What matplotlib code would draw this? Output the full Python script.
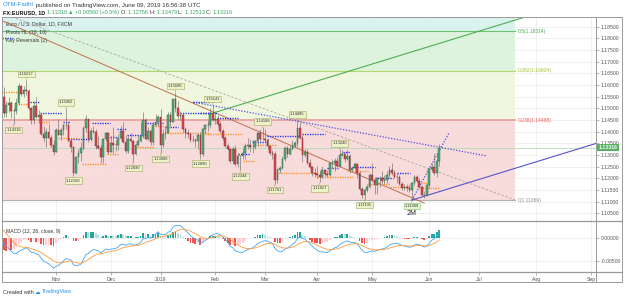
import numpy as np
import pandas as pd
import matplotlib.pyplot as plt
from matplotlib.lines import Line2D

plt.rcParams['font.family'] = ['Liberation Sans', 'DejaVu Sans']

W, H = 625, 298

# FX:EURUSD daily bars, 2018-10-01 .. 2019-06-07 (FXCM, no bars on Dec 25 / Jan 1)
opens = [
    1.1604, 1.1576, 1.1547, 1.1480, 1.1514, 1.1524, 1.1490, 1.1490, 1.1525, 1.1595, 1.1560, 1.1580,
    1.1575, 1.1500, 1.1452, 1.1512, 1.1465, 1.1470, 1.1390, 1.1375, 1.1400, 1.1375, 1.1345,
    1.1312, 1.1408, 1.1387, 1.1407, 1.1429, 1.1430, 1.1362, 1.1335, 1.1225, 1.1290, 1.1310,
    1.1330, 1.1415, 1.1455, 1.1370, 1.1405, 1.1400, 1.1340, 1.1330, 1.1290, 1.1370, 1.1395,
    1.1315, 1.1350, 1.1345, 1.1342, 1.1375, 1.1405, 1.1355, 1.1318, 1.1370, 1.1362, 1.1305,
    1.1345, 1.1360, 1.1380, 1.1450, 1.1370, 1.1405, 1.1355, 1.1430, 1.1440,
    1.1465, 1.1345, 1.1392, 1.1395, 1.1473, 1.1440, 1.1540, 1.1500, 1.1468, 1.1470, 1.1410,
    1.1395, 1.1390, 1.1365, 1.1365, 1.1360, 1.1385, 1.1305, 1.1410, 1.1430, 1.1430, 1.1480,
    1.1448, 1.1455, 1.1435, 1.1405, 1.1375, 1.1340, 1.1325, 1.1275, 1.1325, 1.1260, 1.1295,
    1.1295, 1.1310, 1.1340, 1.1342, 1.1335, 1.1335, 1.1360, 1.1395, 1.1370,
    1.1370, 1.1365, 1.1340, 1.1310, 1.1305, 1.1195, 1.1235, 1.1245, 1.1285, 1.1330, 1.1305,
    1.1325, 1.1340, 1.1352, 1.1415, 1.1375, 1.1300, 1.1315, 1.1265, 1.1250, 1.1225,
    1.1220, 1.1215, 1.1205, 1.1235, 1.1220, 1.1215, 1.1265, 1.1265, 1.1275, 1.1255, 1.1300,
    1.1305, 1.1285, 1.1295, 1.1235, 1.1245, 1.1260, 1.1225, 1.1155, 1.1130, 1.1150, 1.1165,
    1.1215, 1.1195, 1.1170, 1.1200, 1.1200, 1.1190, 1.1195, 1.1215, 1.1235, 1.1225, 1.1205,
    1.1205, 1.1175, 1.1157, 1.1165, 1.1160, 1.1150, 1.1180, 1.1205, 1.1190, 1.1165, 1.1130, 1.1130,
    1.1170, 1.1240, 1.1250, 1.1222, 1.12756,
]
highs = [
    1.1622, 1.1582, 1.1590, 1.1530, 1.1548, 1.1530, 1.1500, 1.1545, 1.1610, 1.1600, 1.1595, 1.1622,
    1.1581, 1.1505, 1.1530, 1.1550, 1.1495, 1.1478, 1.1425, 1.1415, 1.1432, 1.1385, 1.1365,
    1.1415, 1.1455, 1.1415, 1.1435, 1.1500, 1.1440, 1.1368, 1.1340, 1.1298, 1.1325, 1.1355,
    1.1425, 1.1472, 1.1455, 1.1415, 1.1425, 1.1410, 1.1380, 1.1345, 1.1375, 1.1400, 1.1400,
    1.1380, 1.1420, 1.1365, 1.1390, 1.1425, 1.1443, 1.1385, 1.1385, 1.1395, 1.1365, 1.1350,
    1.1385, 1.1440, 1.1486, 1.1460, 1.1420, 1.1410, 1.1440, 1.1475, 1.1470,
    1.1498, 1.1410, 1.1420, 1.1485, 1.1485, 1.1542, 1.1570, 1.1530, 1.1487, 1.1475, 1.1420,
    1.1410, 1.1400, 1.1385, 1.1375, 1.1395, 1.1400, 1.1415, 1.1435, 1.1445, 1.1500, 1.1514,
    1.1488, 1.1470, 1.1445, 1.1410, 1.1380, 1.1350, 1.1330, 1.1340, 1.1342, 1.1308, 1.1300,
    1.1325, 1.1350, 1.1372, 1.1370, 1.1365, 1.1365, 1.1405, 1.1410, 1.1419,
    1.1410, 1.1375, 1.1340, 1.1320, 1.1318, 1.1245, 1.1255, 1.1295, 1.1340, 1.1340, 1.1345,
    1.1365, 1.1360, 1.1448, 1.1440, 1.1385, 1.1325, 1.1325, 1.1285, 1.1255, 1.1245,
    1.1255, 1.1230, 1.1255, 1.1240, 1.1235, 1.1270, 1.1285, 1.1288, 1.1290, 1.1324, 1.1320,
    1.1315, 1.1323, 1.1305, 1.1250, 1.1270, 1.1265, 1.1230, 1.1165, 1.1155, 1.1175, 1.1225,
    1.1265, 1.1200, 1.1205, 1.1210, 1.1230, 1.1215, 1.1230, 1.1252, 1.1265, 1.1235, 1.1225,
    1.1215, 1.1185, 1.1175, 1.1175, 1.1175, 1.1185, 1.1215, 1.1215, 1.1200, 1.1170, 1.1145, 1.1175,
    1.1250, 1.1265, 1.1307, 1.1310, 1.13479,
]
lows = [
    1.1560, 1.1506, 1.1463, 1.1463, 1.1485, 1.1460, 1.1432, 1.1475, 1.1515, 1.1555, 1.1550, 1.1557,
    1.1495, 1.1434, 1.1433, 1.1460, 1.1440, 1.1385, 1.1355, 1.1336, 1.1375, 1.1335, 1.1302,
    1.1312, 1.1385, 1.1365, 1.1385, 1.1410, 1.1360, 1.1315, 1.1216, 1.1218, 1.1265, 1.1273,
    1.1320, 1.1400, 1.1357, 1.1360, 1.1395, 1.1325, 1.1325, 1.1265, 1.1268, 1.1360, 1.1305,
    1.1315, 1.1310, 1.1318, 1.1320, 1.1370, 1.1350, 1.1307, 1.1310, 1.1355, 1.1269, 1.1300,
    1.1340, 1.1355, 1.1375, 1.1365, 1.1365, 1.1345, 1.1345, 1.1425, 1.1425,
    1.1309, 1.1335, 1.1370, 1.1395, 1.1425, 1.1440, 1.1485, 1.1455, 1.1450, 1.1400, 1.1375,
    1.1375, 1.1355, 1.1355, 1.1335, 1.1325, 1.1289, 1.1295, 1.1395, 1.1405, 1.1415, 1.1445,
    1.1435, 1.1425, 1.1395, 1.1365, 1.1335, 1.1320, 1.1265, 1.1260, 1.1255, 1.1250, 1.1234,
    1.1285, 1.1285, 1.1325, 1.1315, 1.1310, 1.1325, 1.1340, 1.1360, 1.1365,
    1.1355, 1.1325, 1.1300, 1.1285, 1.1176, 1.1180, 1.1225, 1.1240, 1.1275, 1.1290, 1.1300,
    1.1320, 1.1335, 1.1335, 1.1370, 1.1270, 1.1290, 1.1260, 1.1245, 1.1212, 1.1205,
    1.1200, 1.1183, 1.1200, 1.1210, 1.1205, 1.1210, 1.1245, 1.1230, 1.1250, 1.1250, 1.1295,
    1.1270, 1.1280, 1.1225, 1.1230, 1.1240, 1.1200, 1.1150, 1.1118, 1.1110, 1.1140, 1.1160,
    1.1190, 1.1135, 1.1135, 1.1165, 1.1180, 1.1175, 1.1180, 1.1205, 1.1215, 1.1200, 1.1180,
    1.1170, 1.1150, 1.1150, 1.1145, 1.1140, 1.1107, 1.1172, 1.1185, 1.1160, 1.1125, 1.1115, 1.1125,
    1.1160, 1.1230, 1.1215, 1.1205, 1.12513,
]
closes = [
    1.1576, 1.1547, 1.1480, 1.1514, 1.1524, 1.1490, 1.1490, 1.1525, 1.1595, 1.1560, 1.1580, 1.1575,
    1.1500, 1.1452, 1.1512, 1.1465, 1.1470, 1.1390, 1.1375, 1.1400, 1.1375, 1.1345, 1.1312,
    1.1408, 1.1387, 1.1407, 1.1429, 1.1430, 1.1362, 1.1335, 1.1225, 1.1290, 1.1310, 1.1330,
    1.1415, 1.1455, 1.1370, 1.1405, 1.1400, 1.1340, 1.1330, 1.1290, 1.1370, 1.1395, 1.1315,
    1.1350, 1.1345, 1.1342, 1.1375, 1.1405, 1.1355, 1.1318, 1.1370, 1.1362, 1.1305, 1.1345,
    1.1360, 1.1380, 1.1450, 1.1370, 1.1405, 1.1355, 1.1430, 1.1440, 1.1465,
    1.1345, 1.1392, 1.1395, 1.1473, 1.1440, 1.1540, 1.1500, 1.1468, 1.1470, 1.1410, 1.1395,
    1.1390, 1.1365, 1.1365, 1.1360, 1.1385, 1.1305, 1.1410, 1.1430, 1.1430, 1.1480, 1.1448,
    1.1455, 1.1435, 1.1405, 1.1375, 1.1340, 1.1325, 1.1275, 1.1325, 1.1260, 1.1295, 1.1295,
    1.1310, 1.1340, 1.1342, 1.1335, 1.1335, 1.1360, 1.1395, 1.1370, 1.1370,
    1.1365, 1.1340, 1.1310, 1.1305, 1.1195, 1.1235, 1.1245, 1.1285, 1.1330, 1.1305, 1.1325,
    1.1340, 1.1352, 1.1415, 1.1375, 1.1300, 1.1315, 1.1265, 1.1250, 1.1225, 1.1220,
    1.1215, 1.1205, 1.1235, 1.1220, 1.1215, 1.1265, 1.1265, 1.1275, 1.1255, 1.1300, 1.1305,
    1.1285, 1.1295, 1.1235, 1.1245, 1.1260, 1.1225, 1.1155, 1.1130, 1.1150, 1.1165, 1.1215,
    1.1195, 1.1170, 1.1200, 1.1200, 1.1190, 1.1195, 1.1215, 1.1235, 1.1225, 1.1205, 1.1205,
    1.1175, 1.1157, 1.1165, 1.1160, 1.1150, 1.1180, 1.1205, 1.1190, 1.1165, 1.1130, 1.1130, 1.1170,
    1.1240, 1.1250, 1.1222, 1.12756, 1.13316,
]
# Aug-Sep 2018 closes, only used to warm up the MACD
warmup_closes = [
    1.1660, 1.1585, 1.1567, 1.1553, 1.1600, 1.1610, 1.1525, 1.1410, 1.1405, 1.1345, 1.1345,
    1.1375, 1.1440, 1.1480, 1.1570, 1.1595, 1.1540, 1.1620, 1.1680, 1.1695, 1.1705, 1.1670, 1.1600,
    1.1620, 1.1585, 1.1630, 1.1625, 1.1550, 1.1595, 1.1600, 1.1625, 1.1690, 1.1625,
    1.1685, 1.1665, 1.1670, 1.1775, 1.1745, 1.1750, 1.1770, 1.1740, 1.1640, 1.1605,
]

# swing labels (bar index, price, side)
lab_idx = [11, 6, 27, 30, 54, 65, 71, 81, 86, 97, 106, 111, 120, 129, 137, 147, 166]
lab_price = [1.16217, 1.14318, 1.15002, 1.12160, 1.12690, 1.13088, 1.15696, 1.12890, 1.15141,
             1.12344, 1.14188, 1.11761, 1.14485, 1.11827, 1.13240, 1.11105, 1.11069]
lab_side = ['h', 'l', 'h', 'l', 'l', 'l', 'h', 'l', 'h', 'l', 'h', 'l', 'h', 'l', 'h', 'l', 'l']

# Pivots HL levels (start bar, end bar, price)
piv_hi_start = [1.5, 12.6, 16.6, 25.8, 27.8, 37.5, 44.7, 47.5, 51.5, 59.6, 66.8, 72.8, 78.1, 80.9,
                87.7, 96.1, 101.8, 107.8, 121.9, 131.9, 138.3, 142.0, 151.2, 160.0]
piv_hi_end = [5.7, 16.6, 25.4, 28.6, 37.5, 44.7, 47.5, 51.5, 59.6, 66.0, 72.0, 84.9, 84.9, 87.7,
              96.1, 101.0, 107.8, 121.1, 131.1, 136.3, 141.2, 151.2, 158.4, 165.3]
piv_hi_price = [1.1800, 1.1527, 1.1480, 1.1441, 1.1369, 1.1437, 1.1377, 1.1412, 1.1386, 1.1437,
                1.1420, 1.1480, 1.1527, 1.1480, 1.1459, 1.1304, 1.1356, 1.1382, 1.1390, 1.1245,
                1.1313, 1.1249, 1.1202, 1.1223]
piv_lo_start = [1.7, 7.7, 15.8, 20.6, 23.8, 33.4, 43.5, 55.6, 62.8, 67.6, 82.9, 98.2, 103.8, 112.2,
                127.9, 140.0, 148.4, 157.2, 168.5, 169.3]
piv_lo_end = [7.3, 11.7, 20.6, 23.4, 31.4, 43.5, 47.9, 62.0, 67.6, 84.9, 98.2, 103.0, 111.8, 127.9,
              142.4, 148.4, 157.2, 165.3, 173.3, 177.3]
piv_lo_price = [1.1570, 1.1519, 1.1441, 1.1339, 1.1373, 1.1262, 1.1304, 1.1334, 1.1424, 1.1394,
                1.1390, 1.1274, 1.1343, 1.1223, 1.1206, 1.1232, 1.1176, 1.1163, 1.1180, 1.1159]

# fibonacci retracement
fib_levels = [0, 0.236, 0.382, 0.5]
fib_prices = [1.11069, 1.14488, 1.16604, 1.18314]
fib_end = 207.5

# drawn trend lines (bar index, price)
brown_x, brown_y = [1.7, 171.0], [1.1874, 1.1094]
gray_x, gray_y = [5.3, 207.5], [1.18914, 1.11074]
green_x, green_y = [86.1, 217.5], [1.1480, 1.1911]
blue_x, blue_y = [166.0, 242.0], [1.1107, 1.13563]
dot1_x, dot1_y = [78.1, 196.2], [1.1527, 1.1296]
dot2_x, dot2_y = [166.0, 180.9], [1.1107, 1.1394]

last_price = 1.13316

# ---------------------------------------------------------------
days = pd.bdate_range('2018-10-01', '2019-09-30')
days = days[~days.isin(pd.to_datetime(['2018-12-25', '2019-01-01']))]
pos = pd.Series(np.arange(len(days)), index=days)
firsts = pos.groupby([days.year, days.month]).first()
month_pos, month_lab = [], []
for (yy, mm), p in firsts.items():
    if (yy, mm) < (2018, 11):
        continue
    month_pos.append(p)
    month_lab.append('2019' if mm == 1 else pd.Timestamp(yy, mm, 1).strftime('%b'))

o, h, l, c = map(np.array, (opens, highs, lows, closes))
idx = np.arange(len(c))

allc = pd.Series(warmup_closes + closes)
macd = allc.ewm(span=12, adjust=False).mean() - allc.ewm(span=26, adjust=False).mean()
sig = macd.ewm(span=9, adjust=False).mean()
hist = macd - sig
macd, sig, hist = (s.values[-len(c):] for s in (macd, sig, hist))
prev = np.r_[hist[0], hist[:-1]]
hcol = np.where(hist >= 0, np.where(hist > prev, '#26a69a', '#b2dfdb'),
                np.where(hist > prev, '#ffcdd2', '#ef5350'))

fig = plt.figure(figsize=(W / 100, H / 100), dpi=100)
ax = fig.add_axes([2 / W, 77 / H, 594 / W, 204 / H])
axm = fig.add_axes([2 / W, 26 / H, 594 / W, 51 / H])

xlim = (1.3, 240.0)
for a in (ax, axm):
    a.set_xlim(*xlim)
    a.set_xticks(month_pos)
    a.grid(axis='both', color='#ebebeb', lw=0.5, zorder=0)
    a.set_axisbelow(True)
    for s in a.spines.values():
        s.set_visible(False)
    a.yaxis.tick_right()
    a.tick_params(axis='y', length=2, width=0.5, color='#999999', labelsize=3.7,
                  labelcolor='#555555', pad=1.5)
    a.set_facecolor('none')

ax.set_ylim(1.10174, 1.18914)
ax.set_yticks(np.arange(1.105, 1.1851, 0.005))
ax.yaxis.set_major_formatter(lambda v, _: f'{v:.5f}')
ax.tick_params(axis='x', length=0, labelbottom=False)

# fib zones
zone_cols = ['#f7d5d5', '#eef6d9', '#d9f2d7', '#d5f1ec']
line_cols = ['#b0b0b0', '#e8a3a0', '#b7d56a', '#6cc06f']
txt_cols = ['#909090', '#e25c58', '#a3c33a', '#4caf50']
tops = fib_prices[1:] + [1.3]
for b, t, col in zip(fib_prices, tops, zone_cols):
    ax.fill_between([-5, fib_end], b, t, color=col, alpha=0.85, lw=0, zorder=1)
for lv, p, lc, tc in zip(fib_levels, fib_prices, line_cols, txt_cols):
    ax.plot([-5, fib_end], [p, p], color=lc, lw=1.3 if lv == 0.236 else 0.8, zorder=2)
    ax.text(fib_end + 1.2, p, f'{lv:g}({p:.5f})', color=tc, fontsize=3.6, va='center', ha='left')

ax.axhline(last_price, color='#b5d9b5', lw=0.6, zorder=2)

# trend lines
ax.plot(brown_x, brown_y, color='#c0704f', lw=0.7, zorder=5)
ax.plot(gray_x, gray_y, color='#a8a8a8', lw=0.6, dashes=(3, 2), zorder=5)
ax.plot(green_x, green_y, color='#4caf50', lw=0.8, zorder=5)
ax.plot(blue_x, blue_y, color='#5555cc', lw=0.8, zorder=5)
ax.plot(dot1_x, dot1_y, color='#5050e0', lw=0.9, dashes=(1, 1.3), zorder=5)
ax.plot(dot2_x, dot2_y, color='#5050e0', lw=0.9, dashes=(1, 1.3), zorder=5)

# pivots
for x0, x1, p in zip(piv_hi_start, piv_hi_end, piv_hi_price):
    ax.plot([x0, x1], [p, p], color='#1f2ee6', lw=1.0, dashes=(0.9, 0.9), zorder=6)
for x0, x1, p in zip(piv_lo_start, piv_lo_end, piv_lo_price):
    ax.plot([x0, x1], [p, p], color='#ff8c1a', lw=1.0, dashes=(0.9, 0.9), zorder=6)

# candles
up = c >= o
ax.vlines(idx, l, h, color='#707070', lw=0.45, zorder=6)
ax.bar(idx, np.maximum(np.abs(c - o), 0.00008), bottom=np.minimum(o, c), width=0.66,
       color=np.where(up, '#4fae7c', '#e04a52'), edgecolor=np.where(up, '#24603d', '#7a1e1e'),
       linewidth=0.3, zorder=7)

# swing labels
for i, p, sd in zip(lab_idx, lab_price, lab_side):
    dy = 6 if sd == 'h' else -6
    last = i == lab_idx[-1]
    ax.annotate(f'{p:.5f}', xy=(i, p), xytext=(0, dy * 0.72), textcoords='offset points',
                ha='center', va='center', fontsize=2.9, color='#333333', zorder=9,
                bbox=dict(boxstyle='square,pad=0.3', fc='#e4f3d0' if last else '#eef2c9',
                          ec='#7fbf5f' if last else '#a3a861', lw=0.4),
                arrowprops=dict(arrowstyle='-', color='#a3a861', lw=0.4, shrinkA=0, shrinkB=0))
ax.annotate('2M', xy=(lab_idx[-1], lab_price[-1]), xytext=(0, -13 * 0.72), textcoords='offset points',
            ha='center', va='center', fontsize=5, color='#222222')

# current price tag
ax.text(1.004, last_price, f'{last_price:.5f}', transform=ax.get_yaxis_transform(), fontsize=3.7,
        color='white', va='center', ha='left', fontweight='bold',
        bbox=dict(boxstyle='square,pad=0.25', fc='#55b063', ec='none'), zorder=10, clip_on=False)

# legend texts
ax.text(0.006, 0.965, 'Euro / U.S. Dollar, 1D, FXCM', transform=ax.transAxes, fontsize=3.7,
        color='#333333', va='center')
ax.text(0.006, 0.925, 'Pivots HL (10, 10)', transform=ax.transAxes, fontsize=3.7, color='#333333',
        va='center')
ax.text(0.006, 0.885, 'Key Reversals (2)', transform=ax.transAxes, fontsize=3.7, color='#333333',
        va='center')

# MACD pane
axm.set_ylim(-0.00742, 0.00381)
axm.set_yticks([-0.005, 0.0])
axm.yaxis.set_major_formatter(lambda v, _: f'{v:.5f}')
axm.bar(idx, hist, width=0.7, color=hcol, zorder=2)
axm.plot(idx, macd, color='#42a5f5', lw=0.6, zorder=3)
axm.plot(idx, sig, color='#ff9a3c', lw=0.6, zorder=3)
axm.set_xticklabels(month_lab)
axm.tick_params(axis='x', length=2, width=0.5, color='#999999', labelsize=3.7,
                labelcolor='#555555', pad=1.5)
axm.text(0.006, 0.8, 'MACD (12, 26, close, 9)', transform=axm.transAxes, fontsize=3.7,
         color='#333333', va='center')

# frame
def fline(xs, ys, col='#9a9a9a', lw=0.7):
    fig.add_artist(Line2D([x / W for x in xs], [1 - y / H for y in ys], color=col, lw=lw))

fline([2, 622], [17, 17])
fline([2, 622], [282, 282])
fline([2, 2], [17, 282])
fline([622, 622], [17, 282])
fline([596, 596], [17, 282])
fline([2, 622], [221, 221], lw=0.9)
fline([2, 622], [272, 272], lw=0.9)

# header / footer rows of coloured pieces
fig.canvas.draw()
rend = fig.canvas.get_renderer()


def row(pieces, x, y, size):
    for s, col, wt in pieces:
        t = fig.text(x / W, 1 - y / H, s, color=col, fontsize=size, fontweight=wt, va='center', ha='left')
        x += t.get_window_extent(renderer=rend).width


dark, grn = '#333333', '#3aa564'
row([('OTM-Fadhl', '#2196f3', 'normal'),
     (' published on TradingView.com, June 09, 2019 16:56:38 UTC', dark, 'normal')], 3, 5, 4.4)
row([('FX:EURUSD, 1D ', '#111111', 'bold'), ('1.13316 ', grn, 'normal'), ('\u25b2 ', grn, 'normal'),
     ('+0.00560 (+0.5%) ', grn, 'normal'), ('O: ', dark, 'normal'), ('1.12756 ', grn, 'normal'),
     ('H: ', dark, 'normal'), ('1.13479 ', grn, 'normal'), ('L: ', dark, 'normal'),
     ('1.12513 ', grn, 'normal'), ('C: ', dark, 'normal'), ('1.13316', grn, 'normal')], 3, 12.5, 4.0)
row([('Created with ', dark, 'normal'), ('\u2601 ', '#2196f3', 'normal'),
     ('TradingView', '#2196f3', 'normal')], 3, 292, 4.0)

fig.savefig('out.png', dpi=100)
